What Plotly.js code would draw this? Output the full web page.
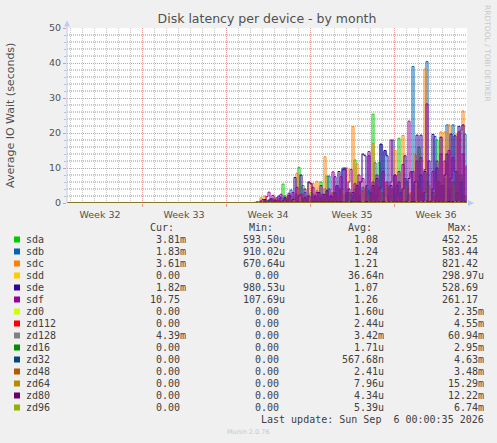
<!DOCTYPE html>
<html>
<head>
<meta charset="utf-8">
<script src="https://cdn.plot.ly/plotly-3.0.1.min.js"></script>
<style>
  html, body { margin: 0; padding: 0; background: #f0f0f0; }
  #chart { width: 497px; height: 443px; }
</style>
</head>
<body>
<div id="chart"></div>
<script>
// time window of the month graph (2h per pixel, 400px wide)
const rangeStart = '2026-08-03 18:00';
const rangeEnd = '2026-09-06 02:00';
// the disks only show latency from Aug 19 on, sampled here every 4h
const activeStart = Date.UTC(2026, 7, 19, 0, 0);
const stepHours = 4;

const devices = ['sda', 'sdb', 'sdc', 'sdd', 'sde', 'sdf', 'zd0', 'zd112', 'zd128', 'zd16', 'zd32', 'zd48', 'zd64', 'zd80', 'zd96'];
const colors = ['#00cc00', '#0066b3', '#ff8000', '#ffcc00', '#330099', '#990099', '#ccff00', '#ff0000', '#808080', '#008f00', '#00487d', '#b35a00', '#b38f00', '#6b006b', '#8fb300'];

// seconds, one value per 4h step from activeStart
const sda = [0, 0, 0.2, 0, 0.3, 0, 0.5, 0.1, 0.8, 0.1,
  0.6, 0.1, 1.0, 0.2, 0.5, 0.1, 5.4, 0.2, 1.5, 0.2,
  2.0, 0.2, 1.0, 0.2, 10.2, 0.3, 5.0, 0.2, 2.0, 0.3,
  3.0, 0.2, 1.5, 0.3, 0.3, 6.0, 0.2, 1.0, 7.7, 0.3,
  2.0, 0.3, 3.0, 0.2, 0.4, 4.0, 0.3, 2.5, 0.3, 3.0,
  0.3, 1.5, 12.3, 0.3, 2.0, 0.3, 4.5, 0.4, 0.3, 3.5,
  0.4, 25.4, 0.3, 2.0, 11.5, 0.4, 3.0, 0.3, 5.0, 0.4,
  0.3, 4.0, 0.4, 2.5, 18.5, 0.4, 3.5, 0.3, 6.0, 0.4,
  2.0, 0.3, 5.0, 0.4, 16.0, 0.4, 3.0, 0.3, 6.0, 0.4,
  0.2, 3.0, 0.4, 18.0, 0.4, 5.0, 0.3, 7.0, 0.4, 4.0,
  0.4, 6.0, 0.3, 3.0, 0.4, 8.0, 0.4, 2.0, 0.004];
const sdb = [0, 0, 0, 0.2, 0, 0.4, 0.1, 0.6, 0.1, 0.9,
  0.1, 1.2, 0.2, 0.8, 0.1, 1.5, 0.2, 2.0, 0.2, 1.2,
  3.7, 0.2, 1.0, 2.5, 0.2, 1.5, 0.2, 3.0, 0.2, 2.0,
  0.2, 2.5, 0.3, 3.5, 0.2, 1.5, 0.3, 4.0, 0.3, 7.7,
  0.3, 3.0, 0.3, 5.0, 0.4, 4.0, 10.0, 0.4, 3.0, 0.3,
  2.5, 0.4, 4.0, 0.3, 6.0, 0.4, 3.5, 0.4, 5.0, 0.3,
  3.0, 0.4, 11.5, 0.4, 4.0, 16.8, 0.4, 15.0, 2.0, 0.4,
  6.0, 18.0, 0.4, 5.0, 0.4, 3.0, 0.4, 7.0, 0.3, 2.5,
  0.4, 39.0, 0.4, 6.0, 0.4, 8.0, 0.5, 3.0, 40.4, 0.4,
  0.2, 4.0, 19.0, 0.4, 6.0, 0.4, 5.0, 0.5, 22.3, 0.4,
  7.0, 22.3, 0.5, 9.0, 0.4, 6.0, 0.4, 19.7, 0.002];
const sdc = [0, 0, 0.1, 0.3, 0.1, 1.5, 0.2, 2.0, 0.2, 0.5,
  1.2, 0.2, 1.5, 0.2, 0.8, 0.2, 1.0, 0.2, 2.0, 0.2,
  0.8, 1.5, 0.2, 8.5, 0.3, 2.0, 0.2, 1.5, 0.3, 6.0,
  0.3, 5.6, 0.3, 6.2, 0.3, 1.5, 0.3, 13.2, 0.3, 2.0,
  0.3, 3.0, 0.4, 2.0, 0.3, 4.0, 0.4, 2.5, 10.0, 0.3,
  3.0, 21.8, 0.4, 11.2, 0.4, 3.0, 0.3, 4.0, 0.4, 2.0,
  0.4, 17.0, 0.4, 5.0, 0.4, 3.0, 0.4, 6.0, 0.3, 4.0,
  0.4, 3.5, 15.0, 0.4, 2.0, 0.4, 19.3, 0.4, 5.0, 0.4,
  3.0, 0.4, 13.7, 0.4, 4.0, 0.4, 3.0, 38.3, 0.4, 5.0,
  0.2, 2.0, 0.4, 6.0, 0.4, 20.3, 0.4, 20.3, 0.4, 22.3,
  0.4, 5.0, 0.4, 19.7, 0.4, 20.8, 26.3, 0.4, 0.004];
const sde = [0, 0, 0, 0.1, 0, 0.3, 0.1, 1.0, 0.2, 0.6,
  1.2, 0.2, 0.8, 0.2, 2.0, 0.2, 0.6, 1.5, 0.2, 2.2,
  0.2, 1.0, 7.3, 0.3, 2.0, 8.0, 0.3, 1.5, 0.3, 6.0,
  5.5, 0.3, 2.0, 0.3, 3.0, 0.3, 2.5, 0.3, 3.5, 0.3,
  2.0, 0.3, 7.5, 0.4, 9.0, 0.4, 9.5, 10.0, 0.4, 4.0,
  0.4, 3.0, 0.3, 5.0, 0.4, 6.0, 14.0, 13.5, 0.4, 13.5,
  0.4, 5.0, 0.4, 7.0, 0.4, 16.8, 0.4, 15.0, 13.5, 0.4,
  5.0, 0.4, 8.0, 0.4, 6.0, 0.4, 4.0, 13.5, 0.4, 7.0,
  8.9, 0.4, 6.0, 19.4, 0.4, 19.4, 0.4, 9.0, 0.5, 12.0,
  0.3, 19.6, 0.4, 10.0, 0.4, 18.8, 0.4, 8.0, 14.0, 0.4,
  19.7, 0.4, 19.2, 0.4, 21.9, 0.4, 22.3, 0.4, 0.002];
const sdf = [0, 0, 0.1, 0.3, 0.1, 0.6, 1.0, 0.2, 1.8, 3.1,
  0.2, 2.2, 0.2, 1.5, 0.2, 2.5, 0.2, 1.2, 0.2, 2.8,
  0.2, 3.0, 0.2, 4.5, 0.3, 2.5, 0.3, 4.0, 0.3, 2.0,
  0.3, 4.5, 0.3, 3.0, 0.3, 5.0, 0.4, 2.5, 0.3, 4.0,
  0.4, 8.9, 0.3, 5.0, 0.4, 7.5, 0.3, 9.5, 0.4, 6.0,
  9.6, 0.4, 5.5, 0.3, 8.0, 0.4, 7.0, 0.4, 5.0, 14.7,
  0.4, 6.0, 0.4, 8.0, 0.4, 4.5, 9.0, 0.4, 6.0, 0.4,
  18.0, 0.4, 8.0, 0.4, 9.0, 0.4, 11.0, 0.4, 0.5, 23.4,
  0.4, 9.0, 0.4, 12.0, 0.4, 13.0, 0.5, 9.5, 28.3, 0.4,
  0.5, 9.0, 0.4, 12.0, 0.4, 14.0, 0.5, 12.0, 0.4, 15.0,
  0.4, 13.0, 9.0, 0.5, 20.3, 0.4, 14.0, 0.5, 10.75];
// sdd and the zvols stay at (practically) zero all month
const flatValues = [0, 0];

// legend table
const curText = ['3.81m', '1.83m', '3.61m', '0.00', '1.82m', '10.75', '0.00', '0.00', '4.39m', '0.00', '0.00', '0.00', '0.00', '0.00', '0.00'];
const minText = ['593.50u', '910.02u', '670.64u', '0.00', '980.53u', '107.69u', '0.00', '0.00', '0.00', '0.00', '0.00', '0.00', '0.00', '0.00', '0.00'];
const avgText = ['1.08', '1.24', '1.21', '36.64n', '1.07', '1.26', '1.60u', '2.44u', '3.42m', '1.71u', '567.68n', '2.41u', '7.96u', '4.34u', '5.39u'];
const maxText = ['452.25', '583.44', '821.42', '298.97u', '528.69', '261.17', '2.35m', '4.55m', '60.94m', '2.95m', '4.63m', '3.48m', '15.29m', '12.22m', '6.74m'];
const lastUpdate = 'Last update: Sun Sep  6 00:00:35 2026';

const busy = {sda: sda, sdb: sdb, sdc: sdc, sde: sde, sdf: sdf};

function stepTimes(n) {
  var out = [];
  for (var i = 0; i < n; i++) {
    var d = new Date(activeStart + i * stepHours * 3600000);
    out.push(d.toISOString().slice(0, 16).replace('T', ' '));
  }
  return out;
}

var traces = [];
for (var i = 0; i < devices.length; i++) {
  var name = devices[i];
  var x, y;
  if (busy[name]) {
    x = [rangeStart].concat(stepTimes(busy[name].length));
    y = [0].concat(busy[name]);
  } else {
    x = [rangeStart, rangeEnd];
    y = flatValues;
  }
  traces.push({
    x: x, y: y, name: name, type: 'scatter', mode: 'lines',
    line: {color: colors[i], width: 1, shape: 'hv'},
    hoverinfo: 'skip'
  });
}

// pixel -> paper helpers (plot area is 67..467 x 28..203)
function px(v) { return (v - 67) / 400; }
function py(v) { return (203 - v) / 175; }

var mono = {family: 'DejaVu Sans Mono', size: 10, color: '#404040'};
function note(text, x, y, anchor, font, angle) {
  return {
    xref: 'paper', yref: 'paper', x: px(x), y: py(y), text: text,
    showarrow: false, xanchor: anchor, yanchor: 'middle',
    borderpad: 0, borderwidth: 0, font: font || mono, textangle: angle || 0
  };
}
function pad(s) {
  // values without a unit keep a blank where the suffix would be
  return /[0-9]$/.test(s) ? s + '\u00a0' : s;
}

var annotations = [];
var shapes = [];
annotations.push(note('Average IO Wait (seconds)', 10.5, 115.5, 'center',
  {family: 'DejaVu Sans', size: 11, color: '#505050'}, -90));
annotations.push(note('RRDTOOL / TOBI OETIKER', 487.5, 53.5, 'center',
  {family: 'DejaVu Sans', size: 7.5, color: '#c8c8c8'}, 90));
annotations.push(note('Cur:', 174, 227.5, 'right'));
annotations.push(note('Min:', 273, 227.5, 'right'));
annotations.push(note('Avg:', 372, 227.5, 'right'));
annotations.push(note('Max:', 471.5, 227.5, 'right'));
for (var i = 0; i < devices.length; i++) {
  var cy = 239.5 + 12 * i;
  shapes.push({type: 'rect', xref: 'paper', yref: 'paper',
    x0: px(14), x1: px(20), y0: py(cy - 3), y1: py(cy + 3),
    fillcolor: colors[i], line: {width: 0}});
  annotations.push(note(devices[i], 26, cy, 'left'));
  annotations.push(note(pad(curText[i]), 186, cy, 'right'));
  annotations.push(note(pad(minText[i]), 285.3, cy, 'right'));
  annotations.push(note(pad(avgText[i]), 384, cy, 'right'));
  annotations.push(note(pad(maxText[i]), 483.5, cy, 'right'));
}
annotations.push(note(lastUpdate.replace(/ /g, '\u00a0'), 483.5, 419.5, 'right'));
annotations.push(note('Munin 2.0.76', 248, 432, 'center',
  {family: 'DejaVu Sans', size: 6.5, color: '#c8c8c8'}));

// minor horizontal grid every 2 (between the red major lines)
var minorGrid = '#cacaca';
for (var g = 2; g < 50; g += 2) {
  if (g % 10 === 0) continue;
  shapes.push({type: 'line', layer: 'below', xref: 'paper', yref: 'y',
    x0: 0, x1: 1, y0: g + 0.5 / 3.5, y1: g + 0.5 / 3.5,
    line: {color: minorGrid, width: 1, dash: '1px,1px'}});
}

// axis arrows
shapes.push({type: 'path', xref: 'paper', yref: 'paper', layer: 'above',
  path: 'M' + px(67) + ',' + py(20.5) + ' L' + px(64) + ',' + py(26.5) + ' L' + px(70) + ',' + py(26.5) + ' Z',
  fillcolor: '#c0c8f8', line: {width: 0}});
shapes.push({type: 'line', xref: 'paper', yref: 'paper',
  x0: px(67), x1: px(67), y0: py(203), y1: py(26),
  line: {color: '#c0c8f8', width: 1}});
shapes.push({type: 'path', xref: 'paper', yref: 'paper',
  path: 'M' + px(474) + ',' + py(203) + ' L' + px(468) + ',' + py(200) + ' L' + px(468) + ',' + py(206) + ' Z',
  fillcolor: '#c0c8f8', line: {width: 0}});

var tickFont = {family: 'DejaVu Sans', size: 9.5, color: '#505050'};
var layout = {
  width: 497, height: 443,
  margin: {l: 67, r: 30, t: 28, b: 240, pad: 0},
  paper_bgcolor: '#f0f0f0', plot_bgcolor: '#ffffff',
  showlegend: false, hovermode: false,
  title: {text: 'Disk latency per device - by month', xref: 'paper', x: 0.5, xanchor: 'center',
    yref: 'container', y: 1 - 18.5 / 443, yanchor: 'middle',
    font: {family: 'DejaVu Sans', size: 12.5, color: '#505050'}},
  xaxis: {
    type: 'date', range: [rangeStart, rangeEnd],
    tick0: '2026-08-10', dtick: 7 * 86400000,
    ticklabelmode: 'period', tickformat: 'Week %V',
    ticks: 'outside', ticklen: 3, tickcolor: '#e49a9a',
    showgrid: true, gridcolor: '#e49a9a', griddash: '1px,1px', gridwidth: 1,
    minor: {tick0: '2026-08-10', dtick: 86400000, showgrid: true, gridcolor: minorGrid, griddash: '1px,1px', gridwidth: 1, ticks: ''},
    zeroline: false, showline: false, layer: 'below traces',
    tickfont: tickFont, fixedrange: true
  },
  yaxis: {
    range: [0, 50], tick0: 0, dtick: 10,
    ticks: 'outside', ticklen: 3, tickcolor: '#e49a9a',
    showgrid: true, gridcolor: '#e49a9a', griddash: '1px,1px', gridwidth: 1,
    minor: {tick0: 0, dtick: 2, showgrid: true, gridcolor: minorGrid, griddash: '1px,1px', gridwidth: 1, ticks: 'outside', ticklen: 2, tickcolor: '#c0c0c0'},
    zeroline: false, showline: false, layer: 'below traces',
    tickfont: tickFont, fixedrange: true
  },
  annotations: annotations,
  shapes: shapes
};

Plotly.newPlot('chart', traces, layout, {displayModeBar: false, staticPlot: true});
</script>
</body>
</html>
